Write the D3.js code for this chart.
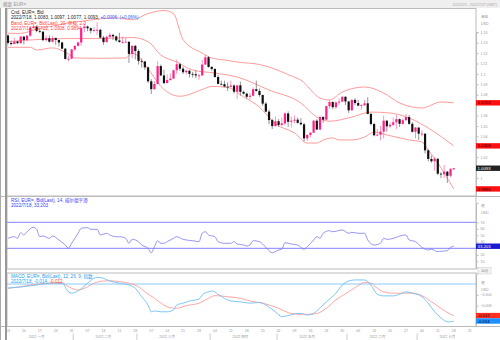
<!DOCTYPE html>
<html><head><meta charset="utf-8">
<script src="https://cdn.jsdelivr.net/npm/d3@7"></script>
<style>
body{margin:0;background:#fff}
svg{display:block;font-family:"Liberation Sans","Noto Sans CJK JP",sans-serif}
</style>
</head><body><svg id="c" width="500" height="340"></svg>
<script>
// ---- data (trading-day index 0 = 2022/1/3, 140 = 2022/7/18) ----
const opens = [
1.1370,1.1298,1.1287,1.1312,1.1296, 1.1359,1.1326,1.1368,1.1441,1.1455,
1.1413,1.1406,1.1325,1.1343,1.1310, 1.1345,1.1326,1.1302,1.1243,1.1144,
1.1146,1.1235,1.1270,1.1302,1.1440, 1.1456,1.1439,1.1416,1.1421,1.1424,
1.1349,1.1306,1.1356,1.1375,1.1361, 1.1322,1.1307,1.1308,1.1309,1.1192,
1.1270,1.1220,1.1125,1.1120,1.1063, 1.0929,1.0854,1.0903,1.1075,1.0985,
1.0912,1.0941,1.0955,1.1035,1.1093, 1.1050,1.1016,1.1030,1.1000,1.0997,
1.0985,1.0985,1.1090,1.1160,1.1067, 1.1047,1.0970,1.0904,1.0901,1.0878,
1.0876,1.0888,1.0829,1.0890,1.0827, 1.0810,1.0780,1.0790,1.0853,1.0836,
1.0797,1.0714,1.0637,1.0556,1.0498, 1.0545,1.0509,1.0524,1.0620,1.0540,
1.0550,1.0560,1.0530,1.0515,1.0380, 1.0413,1.0435,1.0550,1.0465,1.0585,
1.0560,1.0690,1.0730,1.0680,1.0725, 1.0733,1.0780,1.0735,1.0650,1.0750,
1.0720,1.0695,1.0700,1.0717,1.0615, 1.0518,1.0410,1.0415,1.0445,1.0550,
1.0496,1.0510,1.0535,1.0565,1.0520, 1.0555,1.0585,1.0520,1.0443,1.0484,
1.0425,1.0425,1.0265,1.0182,1.0160, 1.0185,1.0040,1.0035,1.0060,1.0020,
1.0083];
const highs = [
1.1376,1.1322,1.1347,1.1316,1.1364, 1.1360,1.1375,1.1450,1.1482,1.1465,
1.1429,1.1410,1.1368,1.1370,1.1363, 1.1350,1.1330,1.1310,1.1245,1.1175,
1.1240,1.1274,1.1310,1.1450,1.1483, 1.1465,1.1447,1.1450,1.1495,1.1433,
1.1365,1.1368,1.1395,1.1385,1.1368, 1.1395,1.1360,1.1345,1.1310,1.1274,
1.1277,1.1235,1.1150,1.1125,1.1070, 1.0950,1.0930,1.1120,1.1090,1.1040,
1.0995,1.1005,1.1040,1.1137,1.1110, 1.1070,1.1045,1.1040,1.1020,1.1035,
1.1000,1.1135,1.1185,1.1170,1.1075, 1.1055,1.0990,1.0935,1.0935,1.0920,
1.0935,1.0900,1.0895,1.0925,1.0840, 1.0820,1.0815,1.0870,1.0935,1.0860,
1.0800,1.0730,1.0655,1.0570,1.0590, 1.0565,1.0580,1.0630,1.0640,1.0590,
1.0600,1.0580,1.0575,1.0530,1.0420, 1.0440,1.0560,1.0565,1.0600,1.0595,
1.0695,1.0750,1.0735,1.0735,1.0765, 1.0785,1.0785,1.0740,1.0755,1.0765,
1.0750,1.0710,1.0750,1.0775,1.0625, 1.0530,1.0470,1.0500,1.0600,1.0555,
1.0530,1.0580,1.0605,1.0570,1.0570, 1.0615,1.0605,1.0535,1.0490,1.0485,
1.0460,1.0430,1.0275,1.0215,1.0200, 1.0185,1.0055,1.0125,1.0065,1.0095,
1.0097];
const lows = [
1.1280,1.1272,1.1285,1.1285,1.1290, 1.1285,1.1315,1.1355,1.1435,1.1400,
1.1393,1.1315,1.1311,1.1300,1.1300, 1.1280,1.1263,1.1235,1.1137,1.1121,
1.1140,1.1220,1.1262,1.1270,1.1400, 1.1410,1.1390,1.1400,1.1375,1.1340,
1.1280,1.1300,1.1335,1.1325,1.1310, 1.1300,1.1290,1.1300,1.1106,1.1150,
1.1140,1.1090,1.1060,1.1040,1.0910, 1.0806,1.0845,1.0900,1.0980,1.0900,
1.0910,1.0935,1.0950,1.1000,1.1030, 1.1000,1.0995,1.0965,1.0965,1.0960,
1.0945,1.0980,1.1085,1.1060,1.1030, 1.0965,1.0900,1.0890,1.0870,1.0836,
1.0870,1.0810,1.0760,1.0790,1.0800, 1.0760,1.0755,1.0785,1.0830,1.0780,
1.0695,1.0635,1.0515,1.0470,1.0495, 1.0490,1.0495,1.0505,1.0490,1.0485,
1.0525,1.0520,1.0505,1.0350,1.0355, 1.0390,1.0430,1.0460,1.0460,1.0530,
1.0555,1.0665,1.0660,1.0665,1.0700, 1.0730,1.0700,1.0625,1.0645,1.0700,
1.0690,1.0655,1.0690,1.0610,1.0505, 1.0400,1.0400,1.0360,1.0380,1.0445,
1.0480,1.0500,1.0470,1.0490,1.0510, 1.0545,1.0510,1.0435,1.0380,1.0365,
1.0400,1.0235,1.0160,1.0145,1.0070, 1.0030,0.9998,0.9998,0.9952,1.0005,
1.0077];
const closes = [
1.1298,1.1287,1.1312,1.1296,1.1359, 1.1326,1.1368,1.1441,1.1455,1.1413,
1.1406,1.1325,1.1343,1.1310,1.1345, 1.1326,1.1302,1.1243,1.1144,1.1146,
1.1235,1.1270,1.1302,1.1440,1.1456, 1.1439,1.1416,1.1421,1.1424,1.1349,
1.1306,1.1356,1.1375,1.1361,1.1322, 1.1307,1.1308,1.1309,1.1192,1.1270,
1.1220,1.1125,1.1120,1.1063,1.0929, 1.0854,1.0903,1.1075,1.0985,1.0912,
1.0941,1.0955,1.1035,1.1093,1.1050, 1.1016,1.1030,1.1000,1.0997,1.0985,
1.0985,1.1090,1.1160,1.1067,1.1047, 1.0970,1.0904,1.0901,1.0878,1.0876,
1.0888,1.0829,1.0890,1.0827,1.0810, 1.0780,1.0790,1.0853,1.0836,1.0797,
1.0714,1.0637,1.0556,1.0498,1.0545, 1.0509,1.0524,1.0620,1.0540,1.0550,
1.0560,1.0530,1.0515,1.0380,1.0413, 1.0435,1.0550,1.0465,1.0585,1.0560,
1.0690,1.0730,1.0680,1.0725,1.0733, 1.0780,1.0735,1.0650,1.0750,1.0720,
1.0695,1.0700,1.0717,1.0615,1.0518, 1.0410,1.0415,1.0445,1.0550,1.0496,
1.0510,1.0535,1.0565,1.0520,1.0555, 1.0585,1.0520,1.0443,1.0484,1.0425,
1.0425,1.0265,1.0182,1.0160,1.0185, 1.0040,1.0035,1.0060,1.0020,1.0085,
1.0093];

// Bollinger band readings (day index, value)
const upIdx  = [0,4,9,14,19,24,29,34,39,44,49,52,55,61,64,69,72,79,82,89,92,98,101,105,112,118,123,130,136,140];
const upper  = [1.139,1.139,1.143,1.146,1.149,1.151,1.153,1.154,1.152,1.158,1.161,1.158,1.133,1.120,1.1153,1.113,1.1114,1.109,1.1066,1.098,1.094,1.0768,1.0749,1.0826,1.0874,1.0816,1.072,1.0672,1.073,1.0722];
const midIdx = [0,9,19,29,39,44,48,53,58,65,72,82,92,97,101,108,114,120,126,133,140];
const middle = [1.131,1.133,1.134,1.134,1.135,1.131,1.1182,1.1114,1.1037,1.1008,1.097,1.0845,1.072,1.0585,1.0545,1.0585,1.0633,1.0624,1.0576,1.046,1.0308];
const lowIdx = [0,7,9,14,19,21,29,37,39,44,48,54,61,64,69,74,79,84,90,94,97,99,102,104,108,112,115,119,126,130,132,135,140];
const lower  = [1.1256,1.1256,1.123,1.125,1.119,1.1153,1.115,1.1153,1.120,1.105,1.088,1.0785,1.085,1.088,1.087,1.078,1.068,1.052,1.0432,1.0335,1.0335,1.0365,1.0384,1.0365,1.0365,1.0393,1.0441,1.0413,1.0365,1.0345,1.0268,1.0143,0.9894];

// RSI readings
const rsiIdx = [0,2,3,4,5,6,8,9,10,11,13,14,16,18,19,20,21,22,23,25,26,28,29,31,32,34,35,37,38,39,41,42,44,45,46,47,48,49,50,52,53,55,56,58,60,61,62,63,65,66,68,70,71,72,74,75,76,77,79,81,83,85,86,87,89,91,93,94,96,97,98,99,101,102,105,107,108,110,112,113,115,117,118,119,122,123,125,126,128,130,132,133,135,136,138,139,140];
const rsiVal = [45.4,47.8,45.4,54,50.5,55.5,62.3,59.2,47.8,48.9,45.4,48.9,42.8,35.1,30,37.7,45.4,53.1,60.8,61.7,59.2,59.2,50.5,53.1,50.5,47.8,47.8,45.4,37.7,43.8,40.2,35.1,30,23.2,32.5,41.7,37.7,37.7,40.2,45.4,47.8,43.8,42.8,41.7,40.2,53.1,55.5,50.5,47.8,40.2,37.7,37.7,40.2,36.6,35.1,33.5,35.1,41.7,40.2,31.5,23.2,27.4,28.5,38.6,36.6,35.1,28.5,32.5,42.8,47.8,45.4,53.1,57.1,55.5,58.2,53.1,54.6,53.1,53.1,42.8,35.1,37.7,45.4,43.8,46.9,48.9,50.5,42.8,40.2,31.5,27.4,28.5,24.8,25.4,26.3,31.5,33.2];
const rsiLevels = [70, 30];

// MACD readings
const macdIdx = [0,4,9,14,17,19,20,22,25,27,28,30,32,35,38,40,42,44,45,46,48,50,52,53,55,57,60,61,63,64,66,68,70,73,76,79,81,84,86,88,91,92,94,96,98,100,103,105,107,109,112,114,116,118,121,123,125,127,130,132,134,136,138,139,140];
const macdVal = [-0.0015,-0.0011,-0.0004,0.0004,0.0003,-0.0029,-0.0034,-0.0026,0.0003,0.0021,0.0025,0.0021,0.0011,0.0003,-0.0004,-0.0016,-0.0047,-0.0078,-0.0103,-0.0100,-0.0103,-0.0103,-0.0096,-0.0078,-0.0071,-0.0063,-0.0056,-0.0041,-0.0029,-0.0026,-0.0038,-0.0053,-0.0063,-0.0066,-0.0071,-0.0068,-0.0078,-0.0103,-0.0121,-0.0117,-0.0109,-0.0109,-0.0115,-0.0109,-0.0088,-0.0066,-0.0034,-0.0004,0.0011,0.0015,0.0015,-0.0004,-0.0038,-0.0044,-0.0044,-0.0038,-0.0029,-0.0034,-0.0047,-0.0071,-0.0103,-0.0125,-0.0140,-0.0140,-0.0137];
const sigIdx = [0,4,7,12,17,19,22,25,27,30,32,35,38,41,43,46,49,51,53,56,60,63,65,69,73,76,80,85,88,91,94,97,100,103,107,110,112,114,116,118,121,124,127,130,133,136,139,140];
const sigVal = [-0.0016,-0.0010,-0.0004,0.0002,0.0003,-0.0010,-0.0022,-0.0010,0.0003,0.0011,0.0012,0.0009,0.0003,-0.0010,-0.0029,-0.0053,-0.0078,-0.0088,-0.0090,-0.0080,-0.0071,-0.0053,-0.0043,-0.0047,-0.0053,-0.0063,-0.0071,-0.0090,-0.0106,-0.0112,-0.0112,-0.0109,-0.0090,-0.0059,-0.0029,-0.0006,0.0006,0.0003,-0.0016,-0.0029,-0.0034,-0.0034,-0.0034,-0.0043,-0.0066,-0.0090,-0.0112,-0.0117];

// axis labels
const weekLabels = ["03","10","17","24","31","07","14","21","28","07","14","21","28","04","11","18","25","02","09","16","23","30","06","13","20","27","04","11","18","25"];
const monthLabels = ["2022 一月","2022 二月","2022 三月","2022 四月","2022 五月","2022 六月","2022 七月"];
const monthStart = [0,21,41,64,85,107,129,147];
const priceTicks = [0.98,0.99,1.00,1.01,1.02,1.03,1.04,1.05,1.06,1.07,1.08,1.09,1.10,1.11,1.12,1.13,1.14];
const rsiTicks = [10,20,30,40,50,60,70];
const macdTicks = [-0.004,-0.008,-0.012,-0.016];

// ---- layout ----
const svg = d3.select("#c");
const L = 7, R = 476;
const P = {main:[8.5,196], rsi:[196.5,269], macd:[273,326.5]};
const FS = 4.6, AFS = 3.6, XFS = 3.5, TFS = 4.3;
const x = d3.scaleLinear().domain([-0.3,147]).range([L,R]);
const y = d3.scaleLinear().domain([0.98,1.14]).range([198.7,32.3]);
const yR = d3.scaleLinear().domain([0,100]).range([267.8,202.8]);
const yM = d3.scaleLinear().domain([-0.016,0.004]).range([327.2,273.2]);

// value tags on the right (position = last value of each series)
const tagsMain = [
  [y(upper[upper.length-1]), "1.0722", "#ff1010", "#300"],
  [y(middle[middle.length-1]), "1.0308", "#ff1010", "#300"],
  [y(closes[closes.length-1]), "1.0093", "#222", "#fff"],
  [y(lower[lower.length-1]), "0.9894", "#ff1010", "#300"]];
const tagsR = [[yR(rsiVal[rsiVal.length-1]), "33.203", "#1a1ad0", "#fff"]];
const tagsM = [
  [yM(sigVal[sigVal.length-1]), "-0.012", "#ff3020", "#300"],
  [yM(macdVal[macdVal.length-1]), "-0.014", "#1e90ff", "#002"]];
const free = (sc, tags) => v => tags.every(t => Math.abs(sc(v)-t[0]) > 4);

// header
svg.append("rect").attr("x",0).attr("y",0).attr("width",500).attr("height",8).attr("fill","#efefef");
svg.append("text").attr("x",3).attr("y",5.6).attr("font-size",FS).attr("fill","#999").text("概要 EUR=");
svg.append("text").attr("x",497).attr("y",5.6).attr("font-size",AFS).attr("text-anchor","end").attr("fill","#aaa").text("2022/1/3 - 2022/7/27 (GMT)");

// clip paths
const defs = svg.append("defs");
Object.entries(P).forEach(([k,[t,b]])=>{
  defs.append("clipPath").attr("id","cl-"+k).append("rect").attr("x",L).attr("y",t).attr("width",R-L).attr("height",b-t);
  defs.append("clipPath").attr("id","ax-"+k).append("rect").attr("x",R-1).attr("y",t).attr("width",500-R+1).attr("height",b-t);
});

// panel frames
Object.values(P).forEach(([t,b])=>{
  svg.append("rect").attr("x",L).attr("y",t).attr("width",R-L).attr("height",b-t).attr("fill","none").attr("stroke","#bbb").attr("stroke-width",1);
});
svg.append("line").attr("x1",0).attr("x2",500).attr("y1",196.5).attr("y2",196.5).attr("stroke","#bbb");
svg.append("line").attr("x1",0).attr("x2",500).attr("y1",326.5).attr("y2",326.5).attr("stroke","#bbb");
svg.append("rect").attr("x",5).attr("y",8).attr("width",2).attr("height",332).attr("fill","#999");
svg.append("line").attr("x1",0.5).attr("x2",0.5).attr("y1",8).attr("y2",340).attr("stroke","#aaa");

// ---- main panel ----
const gMain = svg.append("g").attr("clip-path","url(#cl-main)");
const band = (idx, vals) => d3.line().curve(d3.curveMonotoneX).x((d,i)=>x(idx[i])).y(d=>y(d))(vals);
[[upIdx,upper],[midIdx,middle],[lowIdx,lower]].forEach(([ix,v])=>{
  gMain.append("path").attr("d",band(ix,v)).attr("fill","none").attr("stroke","#ff8f8f").attr("stroke-width",0.9);
});
const candles = closes.map((c,i)=>({i,o:opens[i],h:highs[i],l:lows[i],c}));
const cg = gMain.append("g").selectAll("g").data(candles).join("g");
cg.append("line").attr("x1",d=>x(d.i)).attr("x2",d=>x(d.i)).attr("y1",d=>y(d.h)).attr("y2",d=>y(d.l))
  .attr("stroke",d=>d.c>=d.o?"#f77bb0":"#777").attr("stroke-width",0.8);
cg.append("rect").attr("x",d=>x(d.i)-1.1).attr("width",2.2)
  .attr("y",d=>y(Math.max(d.o,d.c))).attr("height",d=>Math.max(0.8,Math.abs(y(d.o)-y(d.c))))
  .attr("fill",d=>d.c>=d.o?"#ff1f86":"#111");

// legends
const leg = (yy, parts) => {
  const t = svg.append("text").attr("x",11).attr("y",yy).attr("font-size",FS);
  parts.forEach(([s,c])=>t.append("tspan").attr("fill",c).text(s));
};
leg(13.5,[["Cnd, EUR=, Bid","#222"]]);
leg(19,[["2022/7/18, 1.0083, 1.0097, 1.0077, 1.0093, ","#222"],["+0.0006, (+0.06%)","#3355ff"]]);
leg(24.5,[["Band, EUR=, Bid(Last), 20, 単純, 2.0","#ff4040"]]);
leg(30,[["2022/7/18, 1.0722, 1.0308, 0.9894","#ff4040"]]);

// main axis
const axMain = svg.append("g").attr("clip-path","url(#ax-main)").append("g").attr("transform",`translate(${R},0)`)
  .call(d3.axisRight(y).tickValues(priceTicks.filter(free(y,tagsMain))).tickSize(2.5).tickPadding(2).tickFormat(d=>String(+d.toFixed(2))));
svg.append("text").attr("x",481).attr("y",18).attr("font-size",AFS).attr("fill","#999").text("価格");
svg.append("text").attr("x",481).attr("y",24.5).attr("font-size",AFS).attr("fill","#999").text("USD");

// ---- RSI panel ----
const gR = svg.append("g").attr("clip-path","url(#cl-rsi)");
rsiLevels.forEach(v=>gR.append("line").attr("x1",L).attr("x2",R).attr("y1",yR(v)).attr("y2",yR(v)).attr("stroke","#9a9aff").attr("stroke-width",1.2));
gR.append("path").attr("d",d3.line().curve(d3.curveMonotoneX).x((d,i)=>x(rsiIdx[i])).y(d=>yR(d))(rsiVal))
  .attr("fill","none").attr("stroke","#7b7bf0").attr("stroke-width",0.8);
leg(201.5,[["RSI, EUR=, Bid(Last), 14, 威尔德平滑","#3a3aff"]]);
leg(206.5,[["2022/7/18, 33.203","#3a3aff"]]);
const axR = svg.append("g").attr("clip-path","url(#ax-rsi)").append("g").attr("transform",`translate(${R},0)`)
  .call(d3.axisRight(yR).tickValues(rsiTicks.filter(free(yR,tagsR))).tickSize(2.5).tickPadding(2));
svg.append("text").attr("x",481).attr("y",207).attr("font-size",AFS).attr("fill","#999").text("値");
svg.append("text").attr("x",481).attr("y",213.5).attr("font-size",AFS).attr("fill","#999").text("USD");

// ---- MACD panel ----
const gM = svg.append("g").attr("clip-path","url(#cl-macd)");
gM.append("line").attr("x1",L).attr("x2",R).attr("y1",yM(0)).attr("y2",yM(0)).attr("stroke","#7cc4f4").attr("stroke-width",0.9);
gM.append("path").attr("d",d3.line().curve(d3.curveMonotoneX).x((d,i)=>x(sigIdx[i])).y(d=>yM(d))(sigVal))
  .attr("fill","none").attr("stroke","#ff9c9c").attr("stroke-width",0.9);
gM.append("path").attr("d",d3.line().curve(d3.curveMonotoneX).x((d,i)=>x(macdIdx[i])).y(d=>yM(d))(macdVal))
  .attr("fill","none").attr("stroke","#6ec0f5").attr("stroke-width",0.9);
leg(278,[["MACD, EUR=, Bid(Last), 12, 26, 9, 指数","#2d9cf0"]]);
leg(283,[["2022/7/18, -0.014, ","#2d9cf0"],["-0.012","#ff4040"]]);
const axM = svg.append("g").attr("clip-path","url(#ax-macd)").append("g").attr("transform",`translate(${R},0)`)
  .call(d3.axisRight(yM).tickValues(macdTicks.filter(free(yM,tagsM))).tickSize(2.5).tickPadding(2).tickFormat(d3.format(".3f")));
svg.append("text").attr("x",481).attr("y",284).attr("font-size",AFS).attr("fill","#999").text("値");
svg.append("text").attr("x",481).attr("y",290.5).attr("font-size",AFS).attr("fill","#999").text("USD");
svg.append("rect").attr("x",478).attr("y",267.5).attr("width",13).attr("height",6.5).attr("fill","#f4f4f4").attr("stroke","#c8c8c8").attr("stroke-width",0.5);
svg.append("text").attr("x",484.5).attr("y",272.2).attr("font-size",AFS).attr("text-anchor","middle").attr("fill","#999").text("自选");

[axMain,axR,axM].forEach(g=>{
  g.select(".domain").attr("stroke","#bbb");
  g.selectAll(".tick line").attr("stroke","#bbb");
  g.selectAll(".tick text").attr("font-size",AFS).attr("fill","#999").attr("font-family","Liberation Sans");
});

const tag = ([yy, txt, bg, fg]) => {
  svg.append("rect").attr("x",R).attr("y",yy-2.7).attr("width",24).attr("height",5.4).attr("fill",bg);
  svg.append("text").attr("x",R+1.5).attr("y",yy+1.6).attr("font-size",TFS).attr("fill",fg).text(txt);
};
[...tagsMain, ...tagsR, ...tagsM].forEach(tag);

// ---- x axis ----
const xa = svg.append("g");
weekLabels.forEach((lab,w)=>{
  xa.append("text").attr("x",Math.max(x(w*5),8)).attr("y",332.3).attr("font-size",XFS).attr("text-anchor","middle").attr("fill","#999").text(lab);
});
monthLabels.forEach((lab,m)=>{
  const a = x(monthStart[m]-0.5);
  if(m>0) xa.append("line").attr("x1",a).attr("x2",a).attr("y1",333.5).attr("y2",340).attr("stroke","#ccc");
  xa.append("text").attr("x",x(monthStart[m]+9)).attr("y",337.8).attr("font-size",XFS).attr("text-anchor","middle").attr("fill","#999").text(lab);
});
</script>
</body></html>
